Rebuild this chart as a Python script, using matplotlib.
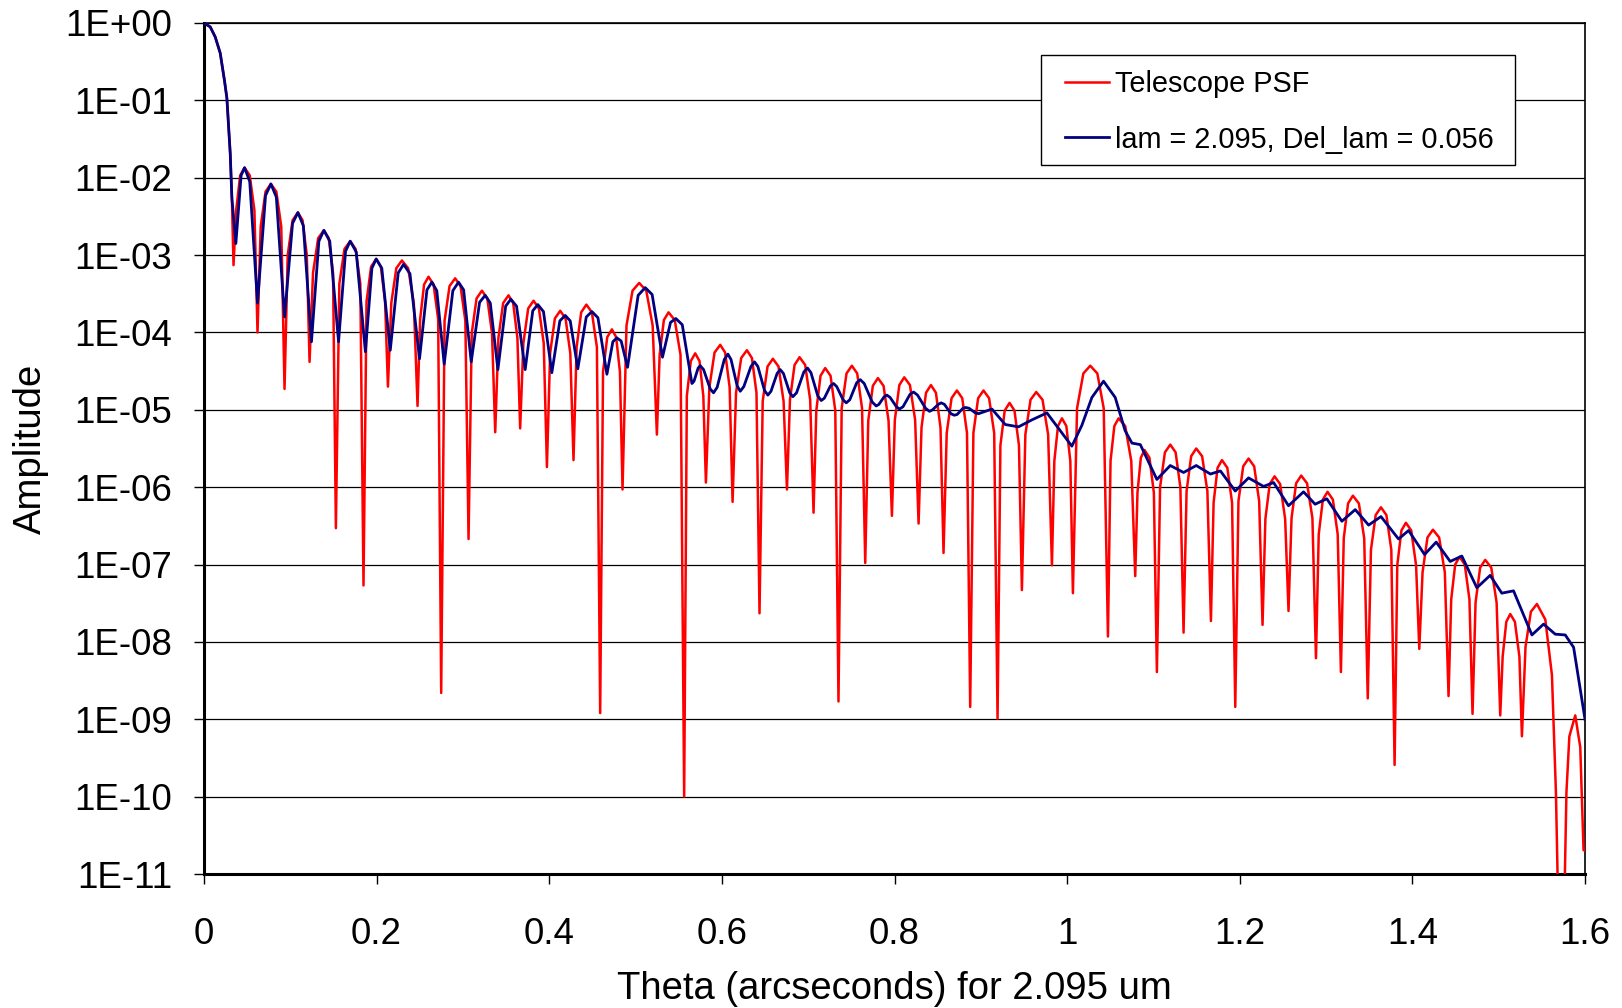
import numpy as np
import matplotlib.pyplot as plt
from matplotlib.patches import Rectangle
from matplotlib.ticker import NullLocator

plt.rcParams["font.family"] = ["Liberation Sans", "DejaVu Sans"]

# ---- data (theta in arcsec, log10 of amplitude) ----
red_theta = [
    0.0000, 0.0072, 0.0130, 0.0188, 0.0238, 0.0265, 0.0284, 0.0304, 0.0323, 0.0342,
    0.0373, 0.0419, 0.0470, 0.0530, 0.0584, 0.0620,
    0.0657, 0.0713, 0.0775, 0.0838, 0.0895, 0.0933,
    0.0970, 0.1026, 0.1088, 0.1142, 0.1191, 0.1223,
    0.1263, 0.1323, 0.1389, 0.1445, 0.1495, 0.1528,
    0.1568, 0.1628, 0.1694, 0.1756, 0.1811, 0.1848,
    0.1883, 0.1936, 0.1995, 0.2049, 0.2098, 0.2131,
    0.2170, 0.2228, 0.2293, 0.2365, 0.2431, 0.2474,
    0.2504, 0.2550, 0.2601, 0.2660, 0.2713, 0.2748,
    0.2787, 0.2845, 0.2910, 0.2972, 0.3028, 0.3065,
    0.3102, 0.3158, 0.3220, 0.3282, 0.3337, 0.3374,
    0.3411, 0.3466, 0.3528, 0.3582, 0.3631, 0.3663,
    0.3700, 0.3756, 0.3818, 0.3880, 0.3936, 0.3973,
    0.4010, 0.4065, 0.4127, 0.4189, 0.4244, 0.4281,
    0.4317, 0.4370, 0.4430, 0.4494, 0.4552, 0.4590,
    0.4623, 0.4672, 0.4726, 0.4775, 0.4819, 0.4849,
    0.4895, 0.4965, 0.5042, 0.5124, 0.5198, 0.5247,
    0.5279, 0.5328, 0.5382, 0.5454, 0.5521, 0.5563,
    0.5594, 0.5640, 0.5691, 0.5741, 0.5785, 0.5815,
    0.5855, 0.5915, 0.5981, 0.6038, 0.6090, 0.6124,
    0.6164, 0.6224, 0.6290, 0.6348, 0.6401, 0.6436,
    0.6473, 0.6529, 0.6591, 0.6656, 0.6715, 0.6754,
    0.6789, 0.6842, 0.6900, 0.6965, 0.7023, 0.7062,
    0.7094, 0.7143, 0.7197, 0.7259, 0.7314, 0.7351,
    0.7388, 0.7444, 0.7506, 0.7568, 0.7624, 0.7661,
    0.7696, 0.7749, 0.7808, 0.7873, 0.7931, 0.7970,
    0.8004, 0.8056, 0.8113, 0.8179, 0.8239, 0.8279,
    0.8313, 0.8365, 0.8422, 0.8480, 0.8533, 0.8568,
    0.8605, 0.8661, 0.8723, 0.8785, 0.8840, 0.8877,
    0.8914, 0.8969, 0.9031, 0.9096, 0.9155, 0.9194,
    0.9227, 0.9277, 0.9333, 0.9390, 0.9442, 0.9476,
    0.9516, 0.9576, 0.9642, 0.9715, 0.9780, 0.9824,
    0.9852, 0.9894, 0.9940, 0.9991, 1.0037, 1.0067,
    1.0115, 1.0188, 1.0268, 1.0350, 1.0424, 1.0473,
    1.0503, 1.0547, 1.0596, 1.0673, 1.0743, 1.0789,
    1.0815, 1.0854, 1.0897, 1.0954, 1.1005, 1.1040,
    1.1077, 1.1133, 1.1195, 1.1257, 1.1312, 1.1349,
    1.1384, 1.1437, 1.1496, 1.1564, 1.1625, 1.1666,
    1.1697, 1.1743, 1.1794, 1.1856, 1.1911, 1.1948,
    1.1985, 1.2040, 1.2102, 1.2167, 1.2225, 1.2264,
    1.2297, 1.2347, 1.2403, 1.2468, 1.2526, 1.2565,
    1.2600, 1.2653, 1.2712, 1.2780, 1.2842, 1.2883,
    1.2915, 1.2963, 1.3017, 1.3079, 1.3135, 1.3172,
    1.3205, 1.3255, 1.3311, 1.3380, 1.3442, 1.3483,
    1.3520, 1.3575, 1.3636, 1.3699, 1.3756, 1.3794,
    1.3825, 1.3873, 1.3925, 1.3987, 1.4043, 1.4080,
    1.4118, 1.4175, 1.4238, 1.4310, 1.4376, 1.4419,
    1.4450, 1.4496, 1.4547, 1.4607, 1.4661, 1.4697,
    1.4732, 1.4785, 1.4844, 1.4914, 1.4976, 1.5018,
    1.5046, 1.5088, 1.5134, 1.5188, 1.5240, 1.5269,
    1.5311, 1.5373, 1.5443, 1.5540, 1.5617, 1.5663, 1.5700, 1.5750,
    1.5785, 1.5819, 1.5887, 1.5945, 1.5983, 1.6000,
]
red_log_amp = [
    0.00, -0.05, -0.18, -0.39, -0.75, -0.97, -1.33, -1.69, -2.26, -3.13,
    -2.42, -1.97, -1.87, -1.97, -2.42, -4.00,
    -2.63, -2.18, -2.08, -2.18, -2.63, -4.73,
    -3.00, -2.55, -2.45, -2.55, -3.00, -4.38,
    -3.23, -2.78, -2.68, -2.78, -3.23, -6.53,
    -3.37, -2.92, -2.82, -2.92, -3.37, -7.27,
    -3.60, -3.15, -3.05, -3.15, -3.60, -4.70,
    -3.62, -3.17, -3.07, -3.17, -3.62, -4.95,
    -3.83, -3.38, -3.28, -3.38, -3.83, -8.66,
    -3.85, -3.40, -3.30, -3.40, -3.85, -6.67,
    -4.01, -3.56, -3.46, -3.56, -4.01, -5.29,
    -4.07, -3.62, -3.52, -3.62, -4.07, -5.24,
    -4.14, -3.69, -3.59, -3.69, -4.14, -5.74,
    -4.27, -3.82, -3.72, -3.82, -4.27, -5.65,
    -4.19, -3.74, -3.64, -3.74, -4.19, -8.92,
    -4.51, -4.06, -3.96, -4.06, -4.51, -6.03,
    -3.91, -3.46, -3.36, -3.46, -3.91, -5.32,
    -4.29, -3.84, -3.74, -3.84, -4.29, -10.00,
    -4.82, -4.37, -4.27, -4.37, -4.82, -5.94,
    -4.71, -4.26, -4.16, -4.26, -4.71, -6.19,
    -4.78, -4.33, -4.23, -4.33, -4.78, -7.63,
    -4.89, -4.44, -4.34, -4.44, -4.89, -6.03,
    -4.87, -4.42, -4.32, -4.42, -4.87, -6.33,
    -5.01, -4.56, -4.46, -4.56, -5.01, -8.77,
    -4.98, -4.53, -4.43, -4.53, -4.98, -6.98,
    -5.14, -4.69, -4.59, -4.69, -5.14, -6.37,
    -5.13, -4.68, -4.58, -4.68, -5.13, -6.47,
    -5.23, -4.78, -4.68, -4.78, -5.23, -6.85,
    -5.30, -4.85, -4.75, -4.85, -5.30, -8.84,
    -5.30, -4.85, -4.75, -4.85, -5.30, -8.99,
    -5.46, -5.01, -4.91, -5.01, -5.46, -7.33,
    -5.32, -4.87, -4.77, -4.87, -5.32, -7.01,
    -5.66, -5.21, -5.11, -5.21, -5.66, -7.37,
    -4.98, -4.53, -4.43, -4.53, -4.98, -7.93,
    -5.66, -5.21, -5.11, -5.21, -5.66, -7.15,
    -6.07, -5.62, -5.52, -5.62, -6.07, -8.39,
    -6.00, -5.55, -5.45, -5.55, -6.00, -7.88,
    -6.05, -5.60, -5.50, -5.60, -6.05, -7.73,
    -6.20, -5.75, -5.65, -5.75, -6.20, -8.84,
    -6.18, -5.73, -5.63, -5.73, -6.18, -7.78,
    -6.41, -5.96, -5.86, -5.96, -6.41, -7.60,
    -6.40, -5.95, -5.85, -5.95, -6.40, -8.21,
    -6.61, -6.16, -6.06, -6.16, -6.61, -8.39,
    -6.66, -6.21, -6.11, -6.21, -6.66, -8.73,
    -6.81, -6.36, -6.26, -6.36, -6.81, -9.59,
    -7.01, -6.56, -6.46, -6.56, -7.01, -8.09,
    -7.10, -6.65, -6.55, -6.65, -7.10, -8.70,
    -7.45, -7.00, -6.90, -7.00, -7.45, -8.93,
    -7.49, -7.04, -6.94, -7.04, -7.49, -8.95,
    -8.19, -7.74, -7.64, -7.74, -8.19, -9.22,
    -8.06, -7.61, -7.51, -7.71, -8.43, -9.94, -12.00, -12.00,
    -9.94, -9.22, -8.95, -9.36, -10.69, -10.70,
]

blue_theta = [
    0.0000, 0.0072, 0.0130, 0.0188, 0.0238, 0.0265, 0.0284, 0.0304, 0.0323, 0.0369,
    0.0430, 0.0470, 0.0530, 0.0620,
    0.0713, 0.0775, 0.0838, 0.0933,
    0.1026, 0.1088, 0.1151, 0.1245,
    0.1331, 0.1389, 0.1457, 0.1559,
    0.1640, 0.1694, 0.1764, 0.1870,
    0.1945, 0.1995, 0.2060, 0.2158,
    0.2250, 0.2312, 0.2386, 0.2497,
    0.2583, 0.2640, 0.2697, 0.2783,
    0.2883, 0.2949, 0.3008, 0.3096,
    0.3193, 0.3258, 0.3317, 0.3405,
    0.3495, 0.3555, 0.3621, 0.3721,
    0.3809, 0.3868, 0.3933, 0.4030,
    0.4123, 0.4185, 0.4243, 0.4331,
    0.4429, 0.4494, 0.4564, 0.4668,
    0.4737, 0.4783, 0.4833, 0.4907,
    0.5030, 0.5112, 0.5192, 0.5312,
    0.5405, 0.5467, 0.5541, 0.5653,
    0.5677, 0.5725, 0.5749, 0.5788, 0.5865, 0.5903,
    0.5945, 0.6028, 0.6070, 0.6106, 0.6177, 0.6213,
    0.6254, 0.6337, 0.6378, 0.6417, 0.6494, 0.6533,
    0.6569, 0.6640, 0.6676, 0.6713, 0.6786, 0.6823,
    0.6865, 0.6950, 0.6992, 0.7032, 0.7111, 0.7151,
    0.7187, 0.7258, 0.7294, 0.7331, 0.7404, 0.7441,
    0.7482, 0.7562, 0.7603, 0.7649, 0.7742, 0.7788,
    0.7819, 0.7881, 0.7912, 0.7949, 0.8022, 0.8058,
    0.8099, 0.8180, 0.8221, 0.8267, 0.8360, 0.8406,
    0.8440, 0.8507, 0.8541, 0.8579, 0.8654, 0.8692,
    0.8726, 0.8793, 0.8827, 0.8864, 0.8937, 0.8974,
    0.9129, 0.9283,
    0.9437, 0.9592, 0.9766, 0.9901, 1.0055, 1.0171, 1.0287, 1.0422,
    1.0557, 1.0672, 1.0751, 1.0848, 1.1040, 1.1195, 1.1349, 1.1496,
    1.1660, 1.1776, 1.1948, 1.2102, 1.2276, 1.2392, 1.2565, 1.2739,
    1.2873, 1.3009, 1.3183, 1.3338, 1.3493, 1.3636, 1.3840, 1.3956,
    1.4141, 1.4276, 1.4438, 1.4573, 1.4747, 1.4901, 1.5036, 1.5172,
    1.5385, 1.5520, 1.5655, 1.5771, 1.5868, 1.6000,
]
blue_log_amp = [
    0.00, -0.05, -0.18, -0.39, -0.75, -0.97, -1.33, -1.69, -2.26, -2.85,
    -1.97, -1.87, -2.05, -3.62,
    -2.23, -2.08, -2.25, -3.80,
    -2.59, -2.45, -2.62, -4.12,
    -2.82, -2.68, -2.82, -4.12,
    -2.95, -2.82, -2.96, -4.25,
    -3.17, -3.05, -3.17, -4.23,
    -3.23, -3.12, -3.24, -4.34,
    -3.45, -3.35, -3.46, -4.41,
    -3.46, -3.35, -3.45, -4.38,
    -3.61, -3.52, -3.62, -4.48,
    -3.66, -3.57, -3.66, -4.48,
    -3.72, -3.64, -3.73, -4.52,
    -3.85, -3.78, -3.85, -4.47,
    -3.80, -3.73, -3.81, -4.54,
    -4.12, -4.07, -4.11, -4.45,
    -3.52, -3.42, -3.51, -4.32,
    -3.87, -3.82, -3.90, -4.66,
    -4.63, -4.46, -4.43, -4.48, -4.73, -4.78,
    -4.71, -4.35, -4.28, -4.35, -4.69, -4.76,
    -4.70, -4.44, -4.38, -4.44, -4.75, -4.81,
    -4.76, -4.53, -4.48, -4.53, -4.78, -4.83,
    -4.78, -4.51, -4.46, -4.52, -4.82, -4.88,
    -4.85, -4.69, -4.66, -4.70, -4.87, -4.91,
    -4.87, -4.65, -4.61, -4.66, -4.90, -4.95,
    -4.93, -4.83, -4.81, -4.84, -4.96, -4.99,
    -4.96, -4.80, -4.77, -4.81, -4.98, -5.02,
    -5.00, -4.93, -4.91, -4.93, -5.05, -5.07,
    -5.06, -4.98, -4.97, -4.98, -5.04, -5.05,
    -4.99, -5.19,
    -5.22, -5.13, -5.04, -5.24, -5.47, -5.20, -4.84, -4.63,
    -4.84, -5.27, -5.43, -5.45, -5.90, -5.72, -5.81, -5.72,
    -5.83, -5.79, -6.05, -5.88, -5.99, -5.94, -6.24, -6.06,
    -6.22, -6.15, -6.44, -6.29, -6.49, -6.38, -6.67, -6.56,
    -6.87, -6.71, -6.96, -6.89, -7.30, -7.14, -7.37, -7.34,
    -7.91, -7.77, -7.90, -7.91, -8.07, -9.00,
]

x_ticks = [0, 0.2, 0.4, 0.6, 0.8, 1.0, 1.2, 1.4, 1.6]
x_tick_labels = ["0", "0.2", "0.4", "0.6", "0.8", "1", "1.2", "1.4", "1.6"]
y_exponents = [0, -1, -2, -3, -4, -5, -6, -7, -8, -9, -10, -11]
y_tick_labels = ["1E+00", "1E-01", "1E-02", "1E-03", "1E-04", "1E-05",
                 "1E-06", "1E-07", "1E-08", "1E-09", "1E-10", "1E-11"]

RED = "#FF0000"; NAVY = "#000080"

fig = plt.figure(figsize=(16.22, 10.08), dpi=100)
ax = fig.add_axes([204 / 1622, 1 - 874 / 1008, (1585 - 204) / 1622, (874 - 23) / 1008])

ax.plot(red_theta, 10.0 ** np.array(red_log_amp), color=RED, lw=1.8,
        label="Telescope PSF", zorder=3)
ax.plot(blue_theta, 10.0 ** np.array(blue_log_amp), color=NAVY, lw=2.0,
        label="lam = 2.095, Del_lam = 0.056", zorder=4)

ax.set_yscale("log")
ax.set_xlim(0, 1.6)
ax.set_ylim(1e-11, 1)
ax.set_yticks([10.0 ** e for e in y_exponents])
ax.set_yticklabels(y_tick_labels)
ax.yaxis.set_minor_locator(NullLocator())
ax.set_xticks(x_ticks)
ax.set_xticklabels(x_tick_labels)

ax.grid(axis="y", color="black", lw=0.9)
ax.grid(axis="x", visible=False)
ax.set_axisbelow(True)
ax.tick_params(direction="out", length=7, width=1, labelsize=26.5, colors="black")
ax.tick_params(axis="x", pad=24)
ax.tick_params(axis="y", pad=16)
for side in ["left", "bottom"]:
    ax.spines[side].set_linewidth(2.2)
for side in ["top", "right"]:
    ax.spines[side].set_linewidth(1.2)

ax.set_ylabel("Amplitude", fontsize=27.5)
ax.yaxis.set_label_coords(-0.112, 0.499)
ax.set_xlabel("Theta (arcseconds) for 2.095 um", fontsize=27.5)
ax.xaxis.set_label_coords(0.5, -0.114)

# legend box drawn separately so the inner padding can match the reference
ax.add_patch(Rectangle((0.6058, 0.8326), 0.3438, 0.1301, transform=ax.transAxes,
                       facecolor="white", edgecolor="black", lw=1.0, zorder=9))
leg = ax.legend(loc="center left", bbox_to_anchor=(0.6238, 0.8958), fontsize=20.8,
                frameon=False, handlelength=1.5, handletextpad=0.21,
                labelspacing=0.96, borderpad=0, borderaxespad=0)
leg.set_zorder(10)

fig.savefig("out.png", dpi=100)
